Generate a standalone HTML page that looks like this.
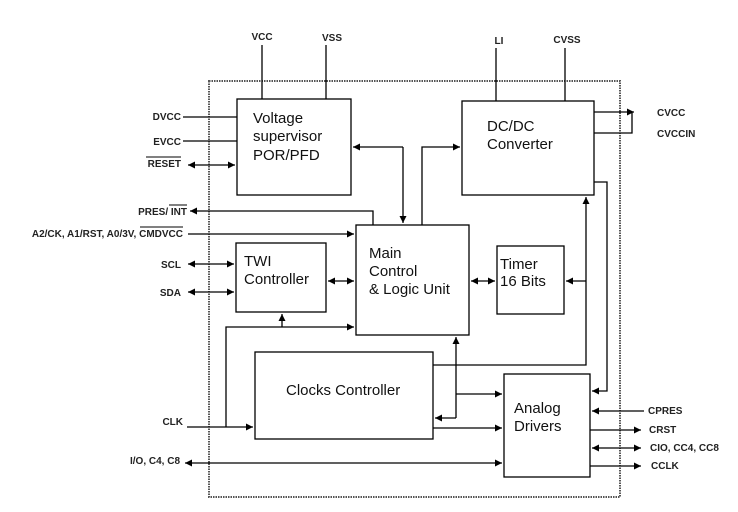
<!DOCTYPE html>
<html><head><meta charset="utf-8"><style>
html,body{margin:0;padding:0;background:#fff;}
svg{display:block;}
.l{font-family:"Liberation Sans",sans-serif;font-size:10px;font-weight:bold;fill:#222;}
.b{font-family:"Liberation Sans",sans-serif;font-size:15px;fill:#111;}
</style></head><body>
<svg width="738" height="512" viewBox="0 0 738 512" xmlns="http://www.w3.org/2000/svg">
<defs>
<marker id="a" viewBox="0 0 10 10" refX="10" refY="5" markerWidth="10" markerHeight="7" markerUnits="userSpaceOnUse" orient="auto-start-reverse"><path d="M0,0 L10,5 L0,10 z" fill="#000"/></marker>
</defs>
<rect x="209" y="81" width="411" height="416" fill="none" stroke="#555" stroke-width="2" stroke-dasharray="1.5,1"/>
<g fill="none" stroke="#000" stroke-width="1.3">
<rect x="237" y="99" width="114" height="96"/>
<rect x="462" y="101" width="132" height="94"/>
<rect x="356" y="225" width="113" height="110"/>
<rect x="236" y="243" width="90" height="69"/>
<rect x="497" y="246" width="67" height="68"/>
<rect x="255" y="352" width="178" height="87"/>
<rect x="504" y="374" width="86" height="103"/>
<line x1="262" y1="45" x2="262" y2="99"/>
<line x1="326" y1="45" x2="326" y2="99"/>
<line x1="496" y1="48" x2="496" y2="101"/>
<line x1="565" y1="48" x2="565" y2="101"/>
<line x1="183" y1="117" x2="237" y2="117"/>
<line x1="183" y1="141" x2="237" y2="141"/>
<line x1="188" y1="165" x2="235" y2="165" marker-start="url(#a)" marker-end="url(#a)"/>
<polyline points="403,147 403,223" marker-end="url(#a)"/>
<line x1="403" y1="147" x2="353" y2="147" marker-end="url(#a)"/>
<polyline points="422,225 422,147 460,147" marker-end="url(#a)"/>
<polyline points="373,225 373,211 190,211" marker-end="url(#a)"/>
<line x1="188" y1="234" x2="354" y2="234" marker-end="url(#a)"/>
<line x1="188" y1="264" x2="234" y2="264" marker-start="url(#a)" marker-end="url(#a)"/>
<line x1="188" y1="292" x2="234" y2="292" marker-start="url(#a)" marker-end="url(#a)"/>
<line x1="328" y1="281" x2="354" y2="281" marker-start="url(#a)" marker-end="url(#a)"/>
<line x1="471" y1="281" x2="495" y2="281" marker-start="url(#a)" marker-end="url(#a)"/>
<polyline points="594,112 634,112" marker-end="url(#a)"/>
<polyline points="594,133 632,133 632,112"/>
<polyline points="433,365 586,365 586,197" marker-end="url(#a)"/>
<line x1="586" y1="281" x2="566" y2="281" marker-end="url(#a)"/>
<polyline points="594,182 607,182 607,391 592,391" marker-end="url(#a)"/>
<polyline points="456,418 456,337" marker-end="url(#a)"/>
<line x1="456" y1="418" x2="435" y2="418" marker-end="url(#a)"/>
<line x1="456" y1="394" x2="502" y2="394" marker-end="url(#a)"/>
<line x1="433" y1="428" x2="502" y2="428" marker-end="url(#a)"/>
<line x1="187" y1="427" x2="253" y2="427" marker-end="url(#a)"/>
<polyline points="226,427 226,327 354,327" marker-end="url(#a)"/>
<line x1="282" y1="327" x2="282" y2="314" marker-end="url(#a)"/>
<line x1="185" y1="463" x2="502" y2="463" marker-start="url(#a)" marker-end="url(#a)"/>
<line x1="644" y1="411" x2="592" y2="411" marker-end="url(#a)"/>
<line x1="590" y1="430" x2="641" y2="430" marker-end="url(#a)"/>
<line x1="592" y1="448" x2="641" y2="448" marker-start="url(#a)" marker-end="url(#a)"/>
<line x1="590" y1="466" x2="641" y2="466" marker-end="url(#a)"/>
</g>
<g class="l">
<text x="262" y="40" text-anchor="middle">VCC</text>
<text x="332" y="41" text-anchor="middle">VSS</text>
<text x="499" y="44" text-anchor="middle">LI</text>
<text x="567" y="43" text-anchor="middle">CVSS</text>
<text x="181" y="120" text-anchor="end">DVCC</text>
<text x="181" y="145" text-anchor="end">EVCC</text>
<text x="181" y="167" text-anchor="end">RESET</text>
<text x="187" y="215" text-anchor="end">PRES/ INT</text>
<text x="183" y="237" text-anchor="end">A2/CK,  A1/RST,  A0/3V, CMDVCC</text>
<text x="181" y="268" text-anchor="end">SCL</text>
<text x="181" y="296" text-anchor="end">SDA</text>
<text x="183" y="425" text-anchor="end">CLK</text>
<text x="180" y="464" text-anchor="end">I/O, C4, C8</text>
<text x="657" y="116">CVCC</text>
<text x="657" y="137">CVCCIN</text>
<text x="648" y="414">CPRES</text>
<text x="649" y="433">CRST</text>
<text x="650" y="451">CIO, CC4, CC8</text>
<text x="651" y="469">CCLK</text>
</g>
<g stroke="#000" stroke-width="0.9">
<line x1="146" y1="157" x2="181" y2="157"/>
<line x1="169" y1="205" x2="187" y2="205"/>
<line x1="140" y1="227" x2="183" y2="227"/>
</g>
<g class="b">
<text x="253" y="123">Voltage</text>
<text x="253" y="141">supervisor</text>
<text x="253" y="160">POR/PFD</text>
<text x="487" y="131">DC/DC</text>
<text x="487" y="149">Converter</text>
<text x="369" y="258">Main</text>
<text x="369" y="276">Control</text>
<text x="369" y="294">&amp; Logic Unit</text>
<text x="244" y="266">TWI</text>
<text x="244" y="284">Controller</text>
<text x="500" y="269">Timer</text>
<text x="500" y="286">16 Bits</text>
<text x="286" y="395">Clocks Controller</text>
<text x="514" y="413">Analog</text>
<text x="514" y="431">Drivers</text>
</g>
</svg>
</body></html>
